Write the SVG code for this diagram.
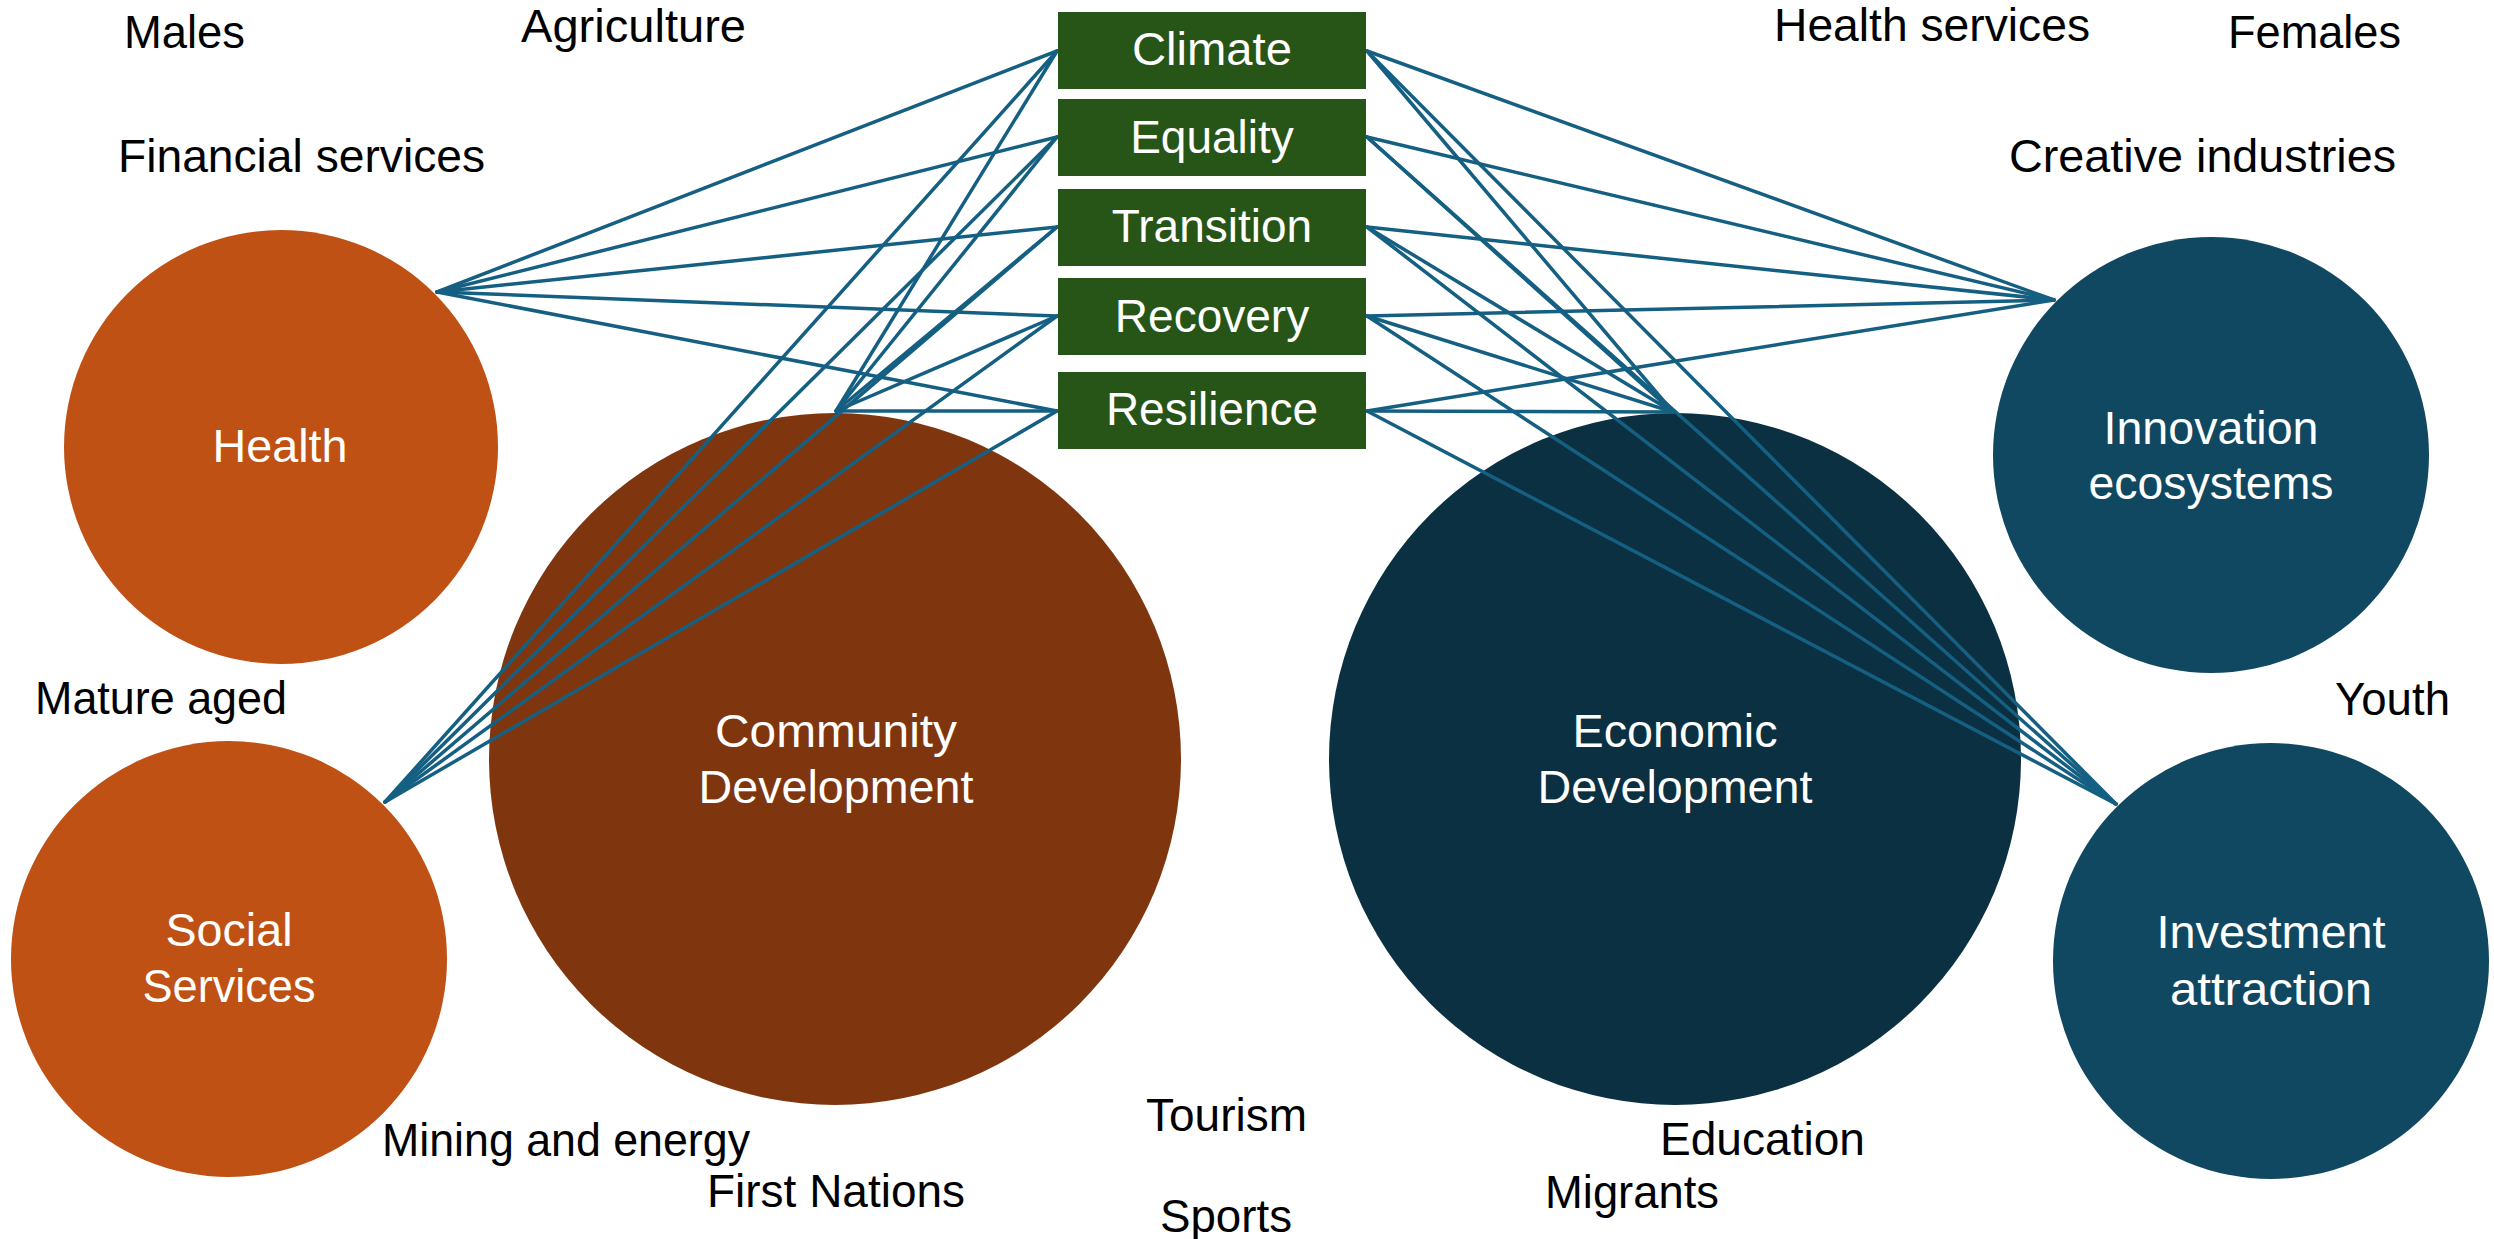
<svg xmlns="http://www.w3.org/2000/svg" width="2494" height="1239" viewBox="0 0 2494 1239">
<style>
text{font-family:"Liberation Sans",Arial,sans-serif;font-size:46px;}
.lbl{fill:#000000;}
.wt{fill:#ffffff;text-anchor:middle;}
.box{fill:#275417;}
.conn line{stroke:#156082;stroke-width:3.5;stroke-linecap:round;}
</style>
<rect x="0" y="0" width="2494" height="1239" fill="#ffffff"/>

<g id="health">
<circle cx="281" cy="447" r="217" fill="#BF5115"/>
<text class="wt" x="280" y="462" textLength="135" lengthAdjust="spacingAndGlyphs">Health</text>
</g>
<g id="social-services">
<circle cx="229" cy="959" r="218" fill="#BF5115"/>
<text class="wt" x="229" y="946" textLength="127" lengthAdjust="spacingAndGlyphs">Social</text>
<text class="wt" x="229" y="1002" textLength="173" lengthAdjust="spacingAndGlyphs">Services</text>
</g>
<g id="community-development">
<circle cx="835" cy="759" r="346" fill="#7F360E"/>
<text class="wt" x="836" y="747" textLength="242" lengthAdjust="spacingAndGlyphs">Community</text>
<text class="wt" x="836" y="803" textLength="275" lengthAdjust="spacingAndGlyphs">Development</text>
</g>
<g id="economic-development">
<circle cx="1675" cy="759" r="346" fill="#0B3041"/>
<text class="wt" x="1675" y="747" textLength="205" lengthAdjust="spacingAndGlyphs">Economic</text>
<text class="wt" x="1675" y="803" textLength="275" lengthAdjust="spacingAndGlyphs">Development</text>
</g>
<g id="innovation-ecosystems">
<circle cx="2211" cy="455" r="218" fill="#104861"/>
<text class="wt" x="2211" y="444" textLength="215" lengthAdjust="spacingAndGlyphs">Innovation</text>
<text class="wt" x="2211" y="499" textLength="245" lengthAdjust="spacingAndGlyphs">ecosystems</text>
</g>
<g id="investment-attraction">
<circle cx="2271" cy="961" r="218" fill="#104861"/>
<text class="wt" x="2271" y="948" textLength="229" lengthAdjust="spacingAndGlyphs">Investment</text>
<text class="wt" x="2271" y="1005" textLength="202" lengthAdjust="spacingAndGlyphs">attraction</text>
</g>

<g id="connectors" class="conn">
<line x1="437" y1="292" x2="1057" y2="51"/>
<line x1="437" y1="292" x2="1057" y2="137"/>
<line x1="437" y1="292" x2="1057" y2="227"/>
<line x1="437" y1="292" x2="1057" y2="316"/>
<line x1="437" y1="292" x2="1057" y2="411"/>
<line x1="836" y1="411" x2="1057" y2="51"/>
<line x1="836" y1="411" x2="1057" y2="137"/>
<line x1="836" y1="411" x2="1057" y2="227"/>
<line x1="836" y1="411" x2="1057" y2="316"/>
<line x1="836" y1="411" x2="1057" y2="411"/>
<line x1="385" y1="802" x2="1057" y2="51"/>
<line x1="385" y1="802" x2="1057" y2="137"/>
<line x1="385" y1="802" x2="1057" y2="227"/>
<line x1="385" y1="802" x2="1057" y2="316"/>
<line x1="385" y1="802" x2="1057" y2="411"/>
<line x1="2054" y1="300" x2="1367" y2="51"/>
<line x1="2054" y1="300" x2="1367" y2="137"/>
<line x1="2054" y1="300" x2="1367" y2="227"/>
<line x1="2054" y1="300" x2="1367" y2="316"/>
<line x1="2054" y1="300" x2="1367" y2="411"/>
<line x1="1673" y1="412" x2="1367" y2="51"/>
<line x1="1673" y1="412" x2="1367" y2="137"/>
<line x1="1673" y1="412" x2="1367" y2="227"/>
<line x1="1673" y1="412" x2="1367" y2="316"/>
<line x1="1673" y1="412" x2="1367" y2="411"/>
<line x1="2116" y1="804" x2="1367" y2="51"/>
<line x1="2116" y1="804" x2="1367" y2="137"/>
<line x1="2116" y1="804" x2="1367" y2="227"/>
<line x1="2116" y1="804" x2="1367" y2="316"/>
<line x1="2116" y1="804" x2="1367" y2="411"/>
</g>

<g id="climate">
<rect class="box" x="1058" y="12" width="308" height="77"/>
<text class="wt" x="1212" y="65" textLength="160" lengthAdjust="spacingAndGlyphs">Climate</text>
</g>
<g id="equality">
<rect class="box" x="1058" y="99" width="308" height="77"/>
<text class="wt" x="1212" y="153">Equality</text>
</g>
<g id="transition">
<rect class="box" x="1058" y="189" width="308" height="77"/>
<text class="wt" x="1212" y="242">Transition</text>
</g>
<g id="recovery">
<rect class="box" x="1058" y="278" width="308" height="77"/>
<text class="wt" x="1212" y="332">Recovery</text>
</g>
<g id="resilience">
<rect class="box" x="1058" y="372" width="308" height="77"/>
<text class="wt" x="1212" y="425">Resilience</text>
</g>

<g id="labels" class="lbl">
<text x="124" y="48" textLength="121" lengthAdjust="spacingAndGlyphs">Males</text>
<text x="521" y="42" textLength="225" lengthAdjust="spacingAndGlyphs">Agriculture</text>
<text x="118" y="172" textLength="367" lengthAdjust="spacingAndGlyphs">Financial services</text>
<text x="1774" y="41" textLength="316" lengthAdjust="spacingAndGlyphs">Health services</text>
<text x="2228" y="48" textLength="173" lengthAdjust="spacingAndGlyphs">Females</text>
<text x="2009" y="172" textLength="387" lengthAdjust="spacingAndGlyphs">Creative industries</text>
<text x="35" y="714" textLength="252" lengthAdjust="spacingAndGlyphs">Mature aged</text>
<text x="2335" y="715" textLength="115" lengthAdjust="spacingAndGlyphs">Youth</text>
<text x="382" y="1156" textLength="368" lengthAdjust="spacingAndGlyphs">Mining and energy</text>
<text x="707" y="1207" textLength="258" lengthAdjust="spacingAndGlyphs">First Nations</text>
<text x="1146" y="1131" textLength="161" lengthAdjust="spacingAndGlyphs">Tourism</text>
<text x="1160" y="1232" textLength="132" lengthAdjust="spacingAndGlyphs">Sports</text>
<text x="1660" y="1155" textLength="205" lengthAdjust="spacingAndGlyphs">Education</text>
<text x="1545" y="1208" textLength="174" lengthAdjust="spacingAndGlyphs">Migrants</text>
</g>
</svg>
